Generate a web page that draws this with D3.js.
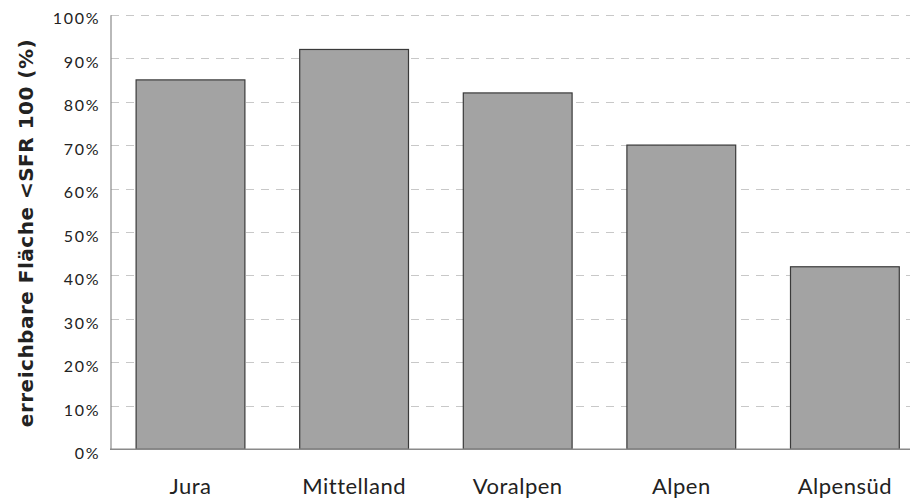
<!DOCTYPE html>
<html>
<head>
<meta charset="utf-8">
<script src="https://cdn.jsdelivr.net/npm/d3@7"></script>
<style>
  html, body { margin: 0; padding: 0; background: #fff; }
  svg { display: block; }
  text { font-family: "Lato", "Open Sans", sans-serif; fill: #222; }
  text.y-title { font-family: "DejaVu Sans", sans-serif; font-weight: bold; }
</style>
</head>
<body>
<svg id="chart" width="910" height="501"></svg>
<script>
// Share of area reachable below SFR 100, per region
const regions = ["Jura", "Mittelland", "Voralpen", "Alpen", "Alpensüd"];
const shares = [85, 92, 82, 70, 42];
const yTicks = [0, 10, 20, 30, 40, 50, 60, 70, 80, 90, 100];
const yTitle = "erreichbare Fläche <SFR 100 (%)";

const svg = d3.select("#chart");
const plotLeft = 110, plotTop = 14.7, plotBottom = 449.3;

const x = d3.scaleBand()
  .domain(regions)
  .range([108.7, 926.7])
  .paddingInner(0.335)
  .paddingOuter(0.1675);

const y = d3.scaleLinear().domain([0, 100]).range([plotBottom, plotTop]);

// dashed horizontal grid
svg.append("g")
  .selectAll("line")
  .data(yTicks.filter(d => d > 0))
  .join("line")
  .attr("x1", plotLeft + 1).attr("x2", 910)
  .attr("y1", d => Math.round(y(d)) + 0.5).attr("y2", d => Math.round(y(d)) + 0.5)
  .attr("stroke", "#c8c8c8")
  .attr("stroke-width", 1)
  .attr("stroke-dasharray", "8,7");

// bars
svg.append("g")
  .selectAll("rect")
  .data(regions.map((r, i) => ({ r, v: shares[i] })))
  .join("rect")
  .attr("x", d => x(d.r))
  .attr("y", d => y(d.v))
  .attr("width", x.bandwidth())
  .attr("height", d => y(0) - y(d.v))
  .attr("fill", "#a3a3a3")
  .attr("stroke", "#3a3a3a")
  .attr("stroke-width", 1.2);

// y axis
const yAxis = d3.axisLeft(y)
  .tickValues(yTicks)
  .tickFormat(d => d + "%")
  .tickSize(0)
  .tickPadding(10);
const gy = svg.append("g").attr("transform", `translate(${plotLeft + 0.5},0)`).call(yAxis);
gy.select(".domain").attr("stroke", "#8a8a8a").attr("stroke-width", 1.2);
gy.selectAll("text")
  .attr("font-size", 16)
  .attr("letter-spacing", "1.8px")
  .attr("fill", "#222")
  .attr("dy", "0.58em");

// baseline
svg.append("line")
  .attr("x1", plotLeft).attr("x2", 910)
  .attr("y1", plotBottom).attr("y2", plotBottom)
  .attr("stroke", "#8a8a8a").attr("stroke-width", 1.5);

// x axis labels
const xAxis = d3.axisBottom(x).tickSize(0).tickPadding(29);
const gx = svg.append("g").attr("transform", `translate(0,${plotBottom})`).call(xAxis);
gx.select(".domain").remove();
gx.selectAll("text")
  .attr("font-size", 22)
  .attr("letter-spacing", "0.5px")
  .attr("fill", "#222");

// y title
svg.append("text")
  .attr("class", "y-title")
  .attr("transform", `translate(33,233) rotate(-90)`)
  .attr("text-anchor", "middle")
  .attr("font-size", 20)
  .attr("letter-spacing", "0.5px")
  .attr("fill", "#222")
  .text(yTitle);
</script>
</body>
</html>
